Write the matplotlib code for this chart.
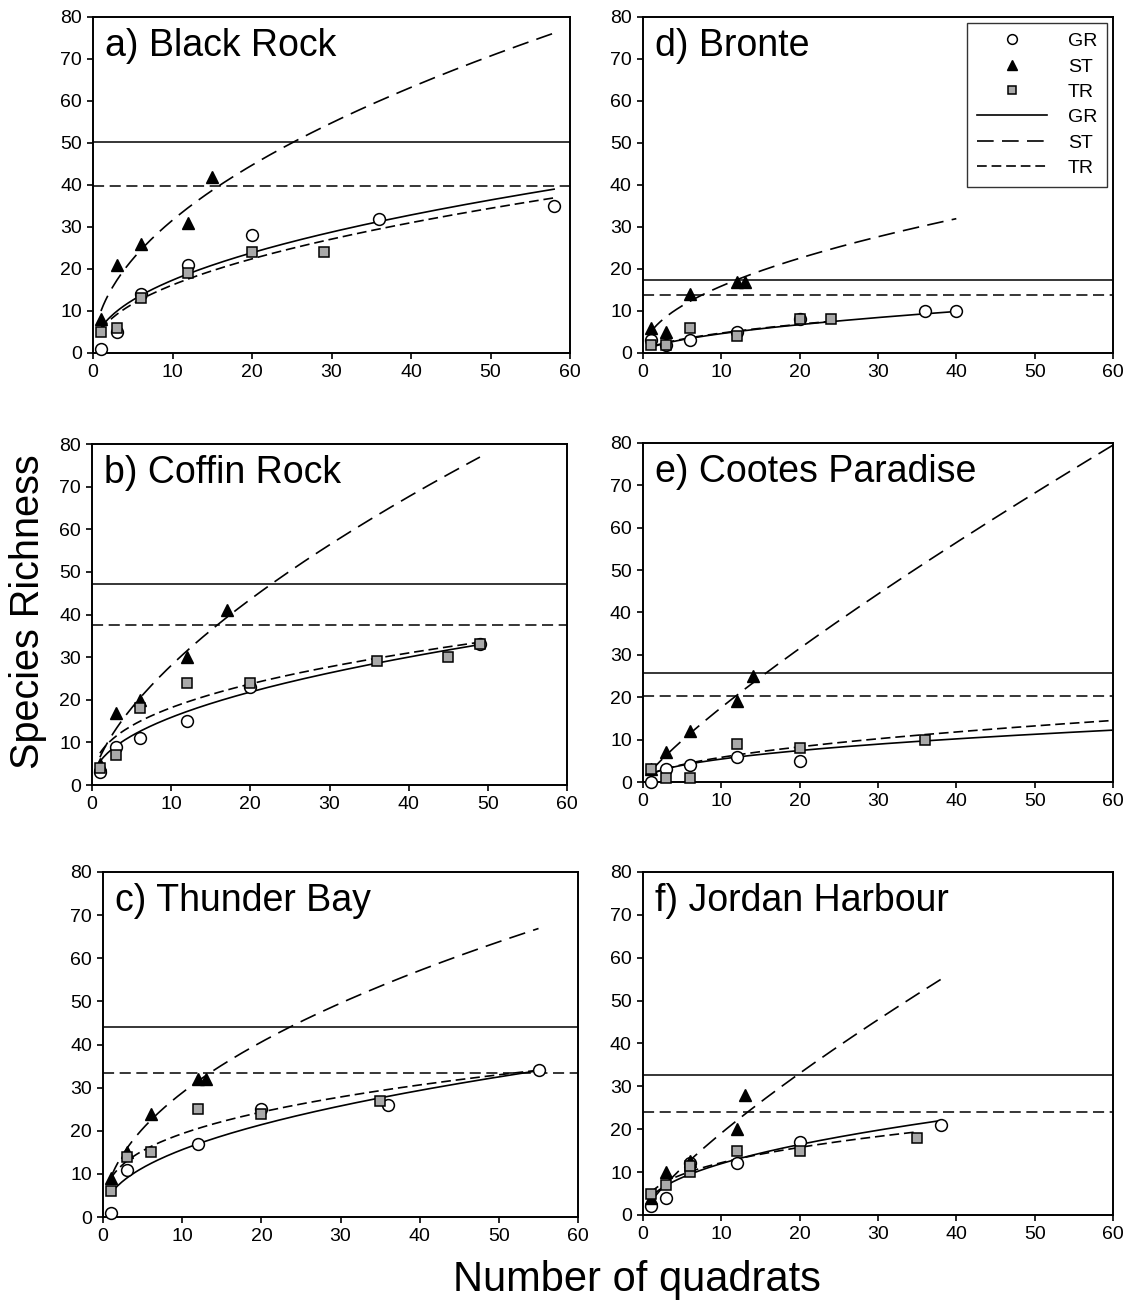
import numpy as np
import matplotlib
matplotlib.use("Agg")
import matplotlib.pyplot as plt
from matplotlib.lines import Line2D

plt.rcParams['font.family'] = ['Liberation Sans', 'DejaVu Sans']
plt.rcParams['lines.scale_dashes'] = False

# Panel titles, in grid order a, b, c (left column) then d, e, f (right column)
titles = ["a) Black Rock", "b) Coffin Rock", "c) Thunder Bay",
          "d) Bronte", "e) Cootes Paradise", "f) Jordan Harbour"]

# Observed richness per number of quadrats
gr_x = [[1, 3, 6, 12, 20, 36, 58],
        [1, 3, 6, 12, 20, 49],
        [1, 3, 12, 20, 36, 55],
        [1, 3, 6, 12, 20, 36, 40],
        [1, 3, 6, 12, 20],
        [1, 3, 6, 12, 20, 38]]
gr_y = [[1, 5, 14, 21, 28, 32, 35],
        [3, 9, 11, 15, 23, 33],
        [1, 11, 17, 25, 26, 34],
        [3, 2, 3, 5, 8, 10, 10],
        [0, 3, 4, 6, 5],
        [2, 4, 12, 12, 17, 21]]

st_x = [[1, 3, 6, 12, 15],
        [1, 3, 6, 12, 17],
        [1, 3, 6, 12, 13],
        [1, 3, 6, 12, 13],
        [1, 3, 6, 12, 14],
        [1, 3, 6, 12, 13]]
st_y = [[8, 21, 26, 31, 42],
        [5, 17, 20, 30, 41],
        [9, 15, 24, 32, 32],
        [6, 5, 14, 17, 17],
        [3, 7, 12, 19, 25],
        [4, 10, 12.5, 20, 28]]

tr_x = [[1, 3, 6, 12, 20, 29],
        [1, 3, 6, 12, 20, 36, 45, 49],
        [1, 3, 6, 12, 20, 35],
        [1, 3, 6, 12, 20, 24],
        [1, 3, 6, 12, 20, 36],
        [1, 3, 6, 6, 12, 20, 35]]
tr_y = [[5, 6, 13, 19, 24, 24],
        [4, 7, 18, 24, 24, 29, 30, 33],
        [6, 14, 15, 25, 24, 27],
        [2, 2, 6, 4, 8, 8],
        [3, 1, 1, 9, 8, 10],
        [5, 7, 10, 11.5, 15, 15, 18]]

# Power-law fits S = a * n**z : (a, z, largest n)
gr_fit = [(6.0, 0.461, 58), (5.5, 0.46, 49), (5.48, 0.455, 55),
          (1.3, 0.55, 40), (1.9, 0.455, 60), (4.19, 0.456, 38)]
st_fit = [(10.0, 0.50, 58), (6.5, 0.635, 49), (9.24, 0.494, 55),
          (5.0, 0.503, 40), (2.53, 0.842, 60), (3.08, 0.792, 38)]
tr_fit = [(5.5, 0.469, 58), (7.46, 0.386, 49), (9.0, 0.332, 55),
          (1.4, 0.53, 24), (1.8, 0.51, 60), (5.2, 0.37, 35)]

# Horizontal reference levels
level_solid = [50.3, 47.2, 44.0, 17.3, 25.8, 32.6]
level_dashed = [39.7, 37.6, 33.5, 13.8, 20.3, 24.0]

# Axes rectangles in figure fractions
rects = [(0.0816, 0.7293, 0.4184, 0.2577),
         (0.0807, 0.3980, 0.4167, 0.2615),
         (0.0904, 0.0667, 0.4167, 0.2646),
         (0.5640, 0.7293, 0.4123, 0.2577),
         (0.5640, 0.4003, 0.4123, 0.2600),
         (0.5640, 0.0683, 0.4123, 0.2630)]

ST_DASH = (0, (12, 6))
TR_DASH = (0, (7, 3.5))
LEVEL_DASH = (0, (8, 4))
SQ_FACE = '#a9a9a9'

fig = plt.figure(figsize=(11.4, 13.04), dpi=100)

for i in range(6):
    ax = fig.add_axes(rects[i])
    ax.set_xlim(0, 60)
    ax.set_ylim(0, 80)
    ax.set_xticks(np.arange(0, 61, 10))
    ax.set_yticks(np.arange(0, 81, 10))
    ax.tick_params(direction='out', length=4, width=1.2, labelsize=14, pad=4)
    for sp in ax.spines.values():
        sp.set_linewidth(1.4)

    ax.axhline(level_solid[i], color='black', lw=1.1, zorder=1)
    ax.axhline(level_dashed[i], color='black', lw=1.1, ls=LEVEL_DASH, zorder=1)

    for (a, z, xmax), ls in ((gr_fit[i], '-'), (st_fit[i], ST_DASH), (tr_fit[i], TR_DASH)):
        n = np.linspace(1, xmax, 200)
        ax.plot(n, a * n ** z, color='black', lw=1.2, ls=ls, zorder=2)

    ax.plot(gr_x[i], gr_y[i], ls='none', marker='o', ms=8.5, mfc='white',
            mec='black', mew=1.1, zorder=3, clip_on=False)
    ax.plot(st_x[i], st_y[i], ls='none', marker='^', ms=8, mfc='black',
            mec='black', zorder=4, clip_on=False)
    ax.plot(tr_x[i], tr_y[i], ls='none', marker='s', ms=7, mfc=SQ_FACE,
            mec='black', mew=1.1, zorder=5, clip_on=False)

    ax.text(0.025, 0.915, titles[i], transform=ax.transAxes, fontsize=27,
            ha='left', va='center')

    if i == 3:
        handles = [
            Line2D([], [], ls='none', marker='o', ms=7, mfc='white', mec='black', mew=1.1),
            Line2D([], [], ls='none', marker='^', ms=7, mfc='black', mec='black'),
            Line2D([], [], ls='none', marker='s', ms=6, mfc=SQ_FACE, mec='black', mew=1.1),
            Line2D([], [], color='black', lw=1.2, ls='-'),
            Line2D([], [], color='black', lw=1.2, ls=ST_DASH),
            Line2D([], [], color='black', lw=1.2, ls=TR_DASH),
        ]
        leg = ax.legend(handles, ["GR", "ST", "TR", "GR", "ST", "TR"],
                        loc='upper right', bbox_to_anchor=(1, 1), borderaxespad=0.3,
                        fontsize=14, frameon=True, fancybox=False, handlelength=3.6,
                        handletextpad=1.1, labelspacing=0.4, borderpad=0.5)
        leg.get_frame().set_edgecolor('black')
        leg.get_frame().set_linewidth(1.0)

fig.text(0.0246, 0.5307, "Species Richness", rotation=90, fontsize=28.5,
         ha='center', va='center')
fig.text(0.559, 0.0184, "Number of quadrats", fontsize=30,
         ha='center', va='center')

fig.savefig("out.png", dpi=100, facecolor='white')
